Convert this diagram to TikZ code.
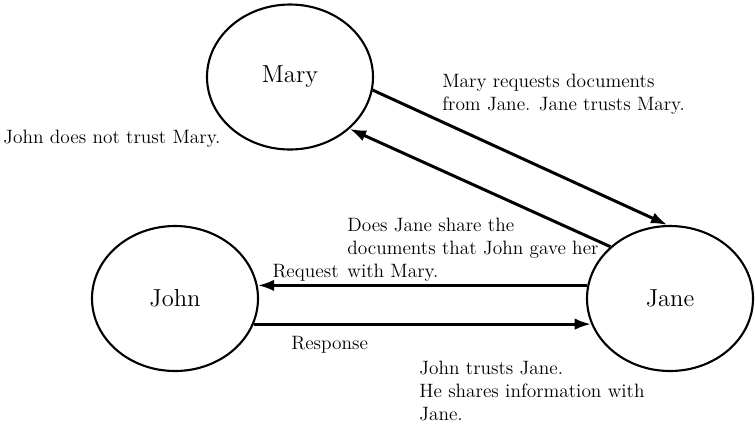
\documentclass[tikz,border=0pt]{standalone}
\usepackage{tikz}
\usetikzlibrary{shapes.geometric,arrows.meta}

\begin{document}
\begin{tikzpicture}[
        every node/.style={font=\fontsize{11}{13}\selectfont},
        agent/.style={draw, ellipse, line width=1.2pt, minimum width=3.32cm, minimum height=2.9cm, inner sep=0pt, font=\fontsize{14}{16}\selectfont},
        link/.style={line width=1.7pt, -{Latex[length=3.3mm,width=2.3mm]}},
        note/.style={align=left, inner sep=0pt}
    ]
        \useasboundingbox (0,0) rectangle (15.1,-8.56);
        % the three parties
        \node[agent] (mary) at (5.8,-1.54) {Mary};
        \node[agent] (john) at (3.5,-5.97) {John};
        \node[agent] (jane) at (13.4,-5.97) {Jane};
        % who asks whom
        \draw[link] (mary.-9) -- (jane.92);
        \draw[link] (jane.139) -- (mary.-41);
        \draw[link] (jane.171) -- (john.9);
        \draw[link] (john.-18) -- (jane.198);
        % trust notes (base = last line)
        \node[note, anchor=base west] (maryjane) at (8.84,-2.2) {Mary requests documents\\from Jane. Jane trusts Mary.};
        \node[note, anchor=base west] (johnmary) at (0.06,-2.86) {John does not trust Mary.};
        \node[note, anchor=base west] (query) at (6.94,-5.54) {Does Jane share the\\documents that John gave her\\with Mary.};
        \node[note, anchor=base east] (req) at (6.78,-5.54) {Request};
        \node[note, anchor=base west] (resp) at (5.82,-6.98) {Response};
        \node[note, anchor=base west] (johnjane) at (8.38,-8.4) {John trusts Jane.\\He shares information with\\Jane.};
\end{tikzpicture}
\end{document}
